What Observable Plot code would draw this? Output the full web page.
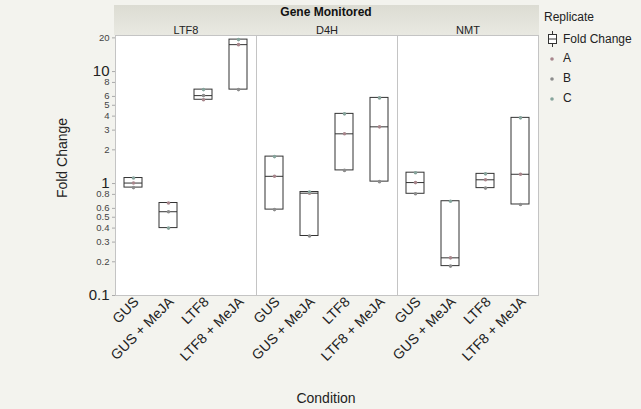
<!DOCTYPE html>
<html>
<head>
<meta charset="utf-8">
<script src="https://cdn.jsdelivr.net/npm/d3@7"></script>
<script src="https://cdn.jsdelivr.net/npm/@observablehq/plot@0.6"></script>
<style>
  html, body { margin: 0; padding: 0; background: #f3f3ee; }
  #wrap { position: relative; width: 641px; height: 409px; overflow: hidden;
          font-family: "Liberation Sans", Arial, sans-serif; color: #222; }
  #band { position: absolute; left: 114px; top: 5px; width: 425px; height: 30px;
          background: linear-gradient(#dcdcd3, #e9e9e2); }
  #chart { position: absolute; left: 0; top: 0; }
  .ov { position: absolute; white-space: nowrap; }
</style>
</head>
<body>
<div id="wrap">
  <div id="band"></div>
  <div id="chart"></div>
  <div class="ov" style="left:326px; top:5px; transform:translateX(-50%); font-size:12px; font-weight:bold; color:#111;">Gene Monitored</div>
  <div class="ov" style="left:62px; top:158px; transform:translate(-50%,-50%) rotate(-90deg); font-size:14px; color:#222;">Fold Change</div>
  <div class="ov" style="left:326px; top:390px; transform:translateX(-50%); font-size:14px; color:#222;">Condition</div>
  <div id="legend"></div>
</div>
<script>
// ---- data ----
const genes = ["LTF8", "D4H", "NMT"];
const conditions = ["GUS", "GUS + MeJA", "LTF8", "LTF8 + MeJA"];
const replicates = ["A", "B", "C"];
// values in gene-major order: LTF8 (4 conditions), D4H (4), NMT (4)
const repA = [1.01, 0.67, 5.6, 17.4,   1.16, 0.82, 2.78, 3.21,   1.02, 0.217, 1.08, 1.21];
const repB = [0.92, 0.56, 6.1, 6.9,    0.585, 0.34, 1.31, 1.04,  0.81, 0.183, 0.91, 0.65];
const repC = [1.12, 0.40, 6.9, 19.3,   1.74, 0.84, 4.19, 5.82,   1.25, 0.695, 1.22, 3.86];
const majorTicks = [0.1, 1, 10];
const minorTicks = [0.2, 0.3, 0.4, 0.5, 0.6, 0.8, 2, 3, 4, 5, 6, 8, 20];
const repColors = ["#a8868c", "#8c8c8c", "#86a49c"];

const reps = [repA, repB, repC];
const points = [];
genes.forEach((g, gi) => conditions.forEach((c, ci) => {
  reps.forEach((arr, ri) => points.push({gene: g, condition: c, replicate: replicates[ri], value: arr[gi * 4 + ci]}));
}));
const stats = d3.flatRollup(points, v => ({
  min: d3.min(v, d => d.value), median: d3.median(v, d => d.value), max: d3.max(v, d => d.value)
}), d => d.gene, d => d.condition).map(([gene, condition, s]) => ({gene, condition, ...s}));

const chart = Plot.plot({
  width: 641, height: 409,
  marginLeft: 114, marginRight: 102, marginTop: 35, marginBottom: 114,
  style: {background: "transparent", fontFamily: "'Liberation Sans', Arial, sans-serif", color: "#333"},
  fx: {domain: genes, padding: 0, label: null},
  x: {domain: conditions, paddingInner: 0.5, paddingOuter: 0.25, label: null},
  y: {type: "log", domain: [0.1, 21], label: null},
  color: {domain: replicates, range: repColors},
  marks: [
    Plot.frame({fill: "white", stroke: "#c4c4c4"}),
    Plot.axisFx({anchor: "top", tickSize: 0, tickPadding: 2, fontSize: 11, label: null, fill: "#222"}),
    Plot.axisX({tickRotate: -45, tickSize: 0, tickPadding: 4, dx: 3, fontSize: 14, label: null, fill: "#222"}),
    Plot.axisY(minorTicks, {tickSize: 3, tickPadding: 3, fontSize: 9.5, label: null, stroke: "#aaa", fill: "#444", text: d => String(d)}),
    Plot.axisY(majorTicks, {tickSize: 3, tickPadding: 3, fontSize: 15, label: null, stroke: "#aaa", fill: "#222", text: d => String(d)}),
    Plot.barY(stats, {fx: "gene", x: "condition", y1: "min", y2: "max", fill: "white", stroke: "#333", strokeWidth: 1}),
    Plot.tickY(stats, {fx: "gene", x: "condition", y: "median", stroke: "#333", strokeWidth: 1}),
    Plot.dot(points, {fx: "gene", x: "condition", y: "value", r: 1.8, fill: "replicate", stroke: null})
  ]
});
document.getElementById("chart").appendChild(chart);

// legend
const lg = document.getElementById("legend");
let html = `<div class="ov" style="left:544px; top:10px; font-size:12px; color:#222;">Replicate</div>`;
html += `<svg class="ov" style="left:546px; top:31px;" width="14" height="16"><line x1="6.5" y1="0" x2="6.5" y2="16" stroke="#333"/><rect x="2.5" y="3.5" width="8" height="9" fill="white" stroke="#333"/><line x1="2.5" y1="8" x2="10.5" y2="8" stroke="#333"/></svg>`;
html += `<div class="ov" style="left:563px; top:32px; font-size:12px; color:#222;">Fold Change</div>`;
replicates.forEach((r, i) => {
  const y = 59 + i * 20;
  html += `<svg class="ov" style="left:548px; top:${y - 3}px;" width="8" height="8"><circle cx="4" cy="3" r="1.8" fill="${repColors[i]}"/></svg>`;
  html += `<div class="ov" style="left:563px; top:${y - 8}px; font-size:12px; color:#222;">${r}</div>`;
});
lg.innerHTML = html;
</script>
</body>
</html>
